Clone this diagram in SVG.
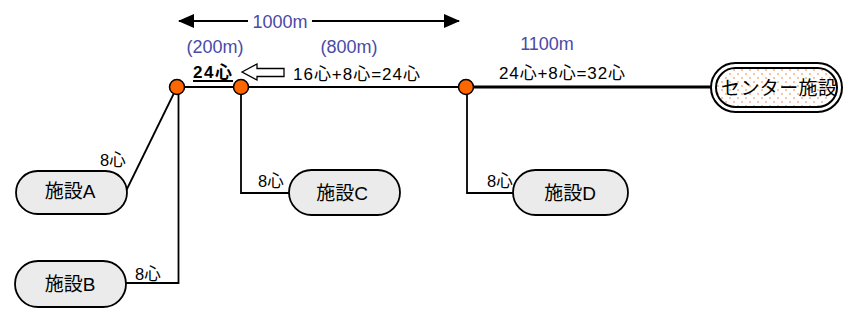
<svg xmlns="http://www.w3.org/2000/svg" width="843" height="329" viewBox="0 0 843 329">
<style>
text{font-family:"Liberation Sans","Noto Sans CJK JP",sans-serif;fill:#000}
.lbl{font-size:16.5px}
.eq{font-size:17px}
.blue{font-size:18px;fill:#4a4aa8;text-anchor:middle}
.node{fill:#ebebeb;stroke:#000;stroke-width:1.8}
.nt{font-size:19px;text-anchor:middle}
.ln{fill:none;stroke:#000;stroke-width:1.8}
.dot{fill:#ff6600;stroke:#000;stroke-width:1.5}
</style>
<defs>
<marker id="ah" viewBox="0 0 16 14" refX="15" refY="7" markerWidth="16" markerHeight="14" orient="auto-start-reverse" markerUnits="userSpaceOnUse">
<path d="M0,0 L16,7 L0,14 z" fill="#000"/>
</marker>
<pattern id="dots" width="8" height="8" patternUnits="userSpaceOnUse">
<rect width="8" height="8" fill="#fff"/>
<circle cx="2" cy="2" r="0.9" fill="#f7a77a"/>
<circle cx="6" cy="6" r="0.9" fill="#f7a77a"/>
</pattern>
</defs>
<g id="connectors">
<line x1="177" y1="87" x2="466" y2="87" stroke="#000" stroke-width="2"/>
<line x1="466" y1="87" x2="711" y2="87" stroke="#000" stroke-width="3"/>
<line x1="126" y1="191" x2="177" y2="87" class="ln"/>
<polyline points="178.5,87 178.5,283 125,283" class="ln"/>
<polyline points="241,87 241,193 289,193" class="ln"/>
<polyline points="467,87 467,193 513,193" class="ln"/>
</g>
<g id="dimension">
<line x1="179" y1="21" x2="248" y2="21" stroke="#000" stroke-width="2.2" marker-start="url(#ah)"/>
<line x1="312" y1="21" x2="459" y2="21" stroke="#000" stroke-width="2.2" marker-end="url(#ah)"/>
<text x="280" y="28" class="blue">1000m</text>
<text x="215" y="53" class="blue">(200m)</text>
<text x="349" y="53" class="blue">(800m)</text>
<text x="547" y="50" class="blue">1100m</text>
</g>
<g id="labels">
<text x="193" y="78" class="eq" font-weight="bold" textLength="39">24心</text>
<line x1="193" y1="81" x2="233" y2="81" stroke="#000" stroke-width="1.8"/>
<path d="M242,72 L257,64 L257,68.5 L284,68.5 L284,76.5 L257,76.5 L257,80 Z" fill="#fff" stroke="#000" stroke-width="1.3"/>
<text x="293" y="80" class="eq" textLength="127">16心+8心=24心</text>
<text x="499" y="79" class="eq" textLength="126">24心+8心=32心</text>
<text x="100" y="166" class="lbl">8心</text>
<text x="135" y="280" class="lbl">8心</text>
<text x="258" y="187" class="lbl">8心</text>
<text x="487" y="187" class="lbl">8心</text>
</g>
<g id="center">
<rect x="711" y="63" width="131" height="49" rx="24.5" fill="#fff" stroke="#000" stroke-width="2"/>
<rect x="716" y="68" width="121" height="39" rx="19.5" fill="url(#dots)" stroke="#000" stroke-width="2"/>
<text x="779" y="95" class="nt" textLength="116">センター施設</text>
</g>
<g id="nodeA">
<rect x="16" y="171" width="111" height="43" rx="21.5" class="node"/>
<text x="70" y="198" class="nt">施設A</text>
</g>
<g id="nodeB">
<rect x="15" y="261" width="111" height="46" rx="23" class="node"/>
<text x="70" y="291" class="nt">施設B</text>
</g>
<g id="nodeC">
<rect x="289" y="170" width="111" height="45" rx="22.5" class="node"/>
<text x="342" y="200" class="nt">施設C</text>
</g>
<g id="nodeD">
<rect x="513" y="170" width="115" height="45" rx="22.5" class="node"/>
<text x="570" y="200" class="nt">施設D</text>
</g>
<g id="dots-nodes">
<circle cx="177" cy="87" r="7.5" class="dot"/>
<circle cx="241" cy="87" r="7.5" class="dot"/>
<circle cx="466" cy="87" r="7.5" class="dot"/>
</g>
</svg>
